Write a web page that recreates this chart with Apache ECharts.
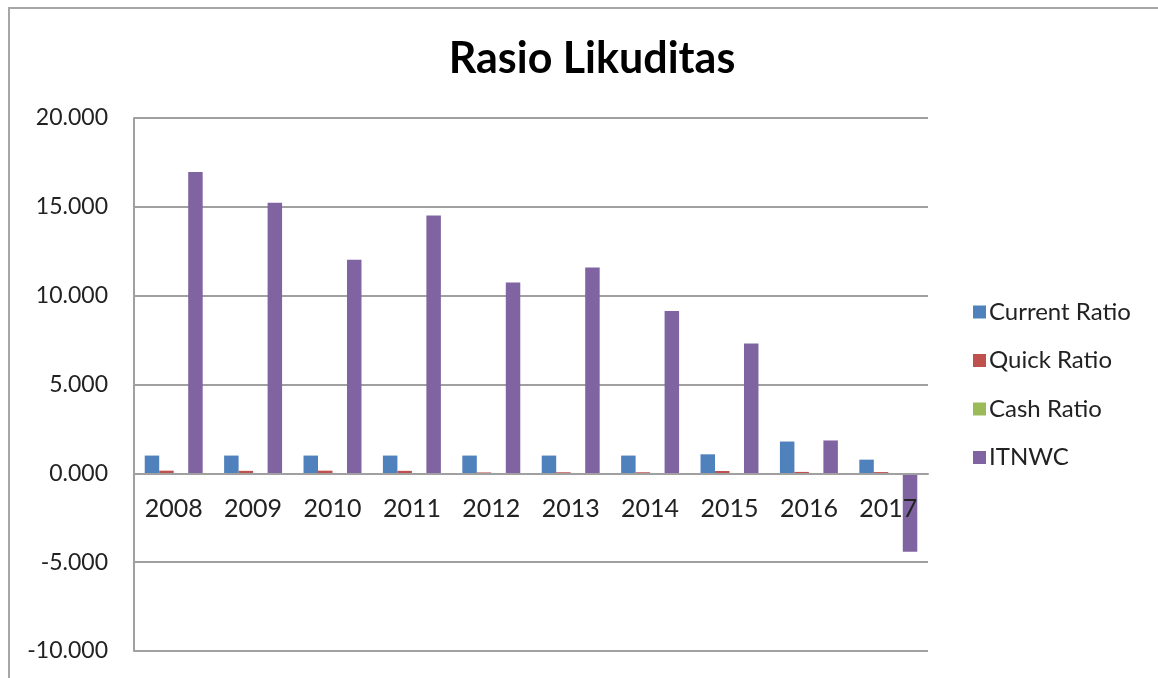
<!DOCTYPE html>
<html>
<head>
<meta charset="utf-8">
<script src="https://cdn.jsdelivr.net/npm/echarts@6/dist/echarts.min.js"></script>
<style>
  html, body { margin: 0; padding: 0; background: #fff; }
  #frame { position: absolute; left: 8px; top: 7px; width: 1160px; height: 680px;
           border-left: 2px solid #a6a6a6; border-top: 2px solid #a6a6a6; box-sizing: border-box; }
  #chart { position: absolute; left: 0; top: 0; width: 1158px; height: 678px; }
</style>
</head>
<body>
<div id="frame"></div>
<div id="chart"></div>
<script>
const categories = ['2008','2009','2010','2011','2012','2013','2014','2015','2016','2017'];
const seriesNames = ['Current Ratio','Quick Ratio','Cash Ratio','ITNWC'];
const currentRatio = [1.00, 1.00, 1.00, 1.00, 1.00, 1.00, 1.00, 1.07, 1.79, 0.77];
const quickRatio   = [0.15, 0.14, 0.15, 0.14, 0.05, 0.06, 0.06, 0.13, 0.08, 0.07];
const cashRatio    = [0.02, 0.02, 0.02, 0.02, 0.01, 0.01, 0.01, 0.02, 0.01, 0.01];
const itnwc        = [16.96, 15.23, 12.02, 14.51, 10.74, 11.58, 9.13, 7.31, 1.85, -4.42];
const yTicks = { min: -10, max: 20, interval: 5 };
const colors = ['#4F81BD', '#C0504D', '#9BBB59', '#8064A2'];

const FONT = 'Lato, "Noto Sans", sans-serif';
const GRID = { left: 134, right: 230, top: 118, bottom: 27 };
const chart = echarts.init(document.getElementById('chart'), null, { renderer: 'canvas' });
const values = [currentRatio, quickRatio, cashRatio, itnwc];

// place the category axis on the zero line (offset from the bottom of the grid)
const plotH = 678 - GRID.top - GRID.bottom;
const zeroOffset = -plotH * (0 - yTicks.min) / (yTicks.max - yTicks.min);

chart.setOption({
  backgroundColor: 'transparent',
  animation: false,
  color: colors,
  title: {
    text: 'Rasio Likuditas',
    left: 587, top: 33, textAlign: 'center',
    textStyle: { fontFamily: FONT, fontWeight: 'bold', fontSize: 43, color: '#000' }
  },
  legend: {
    orient: 'vertical',
    left: 968, top: 295,
    itemWidth: 13, itemHeight: 13, itemGap: 24.5,
    icon: 'rect',
    textStyle: { fontFamily: FONT, fontSize: 24, color: '#222', lineHeight: 24, padding: [0,0,0,-2] },
    data: seriesNames
  },
  grid: Object.assign({ containLabel: false, outerBoundsMode: 'none' }, GRID),
  xAxis: {
    type: 'category',
    data: categories,
    z: 5,
    offset: zeroOffset,
    axisLine: { onZero: false, lineStyle: { color: '#a0a0a0', width: 2 } },
    axisTick: { show: false },
    axisLabel: { fontFamily: FONT, fontSize: 25, color: '#222', margin: 23 }
  },
  yAxis: {
    type: 'value',
    min: yTicks.min, max: yTicks.max, interval: yTicks.interval,
    axisLine: { show: true, lineStyle: { color: '#a0a0a0', width: 2 } },
    axisTick: { show: false },
    splitLine: { lineStyle: { color: '#a0a0a0', width: 2 } },
    axisLabel: { fontFamily: FONT, fontSize: 23, color: '#222', margin: 26,
      formatter: v => v.toFixed(3) }
  },
  series: seriesNames.map((name, i) => ({
    name, type: 'bar', data: values[i],
    barGap: '0%', barCategoryGap: '27%',
    itemStyle: { color: colors[i] }
  }))
});
</script>
</body>
</html>
